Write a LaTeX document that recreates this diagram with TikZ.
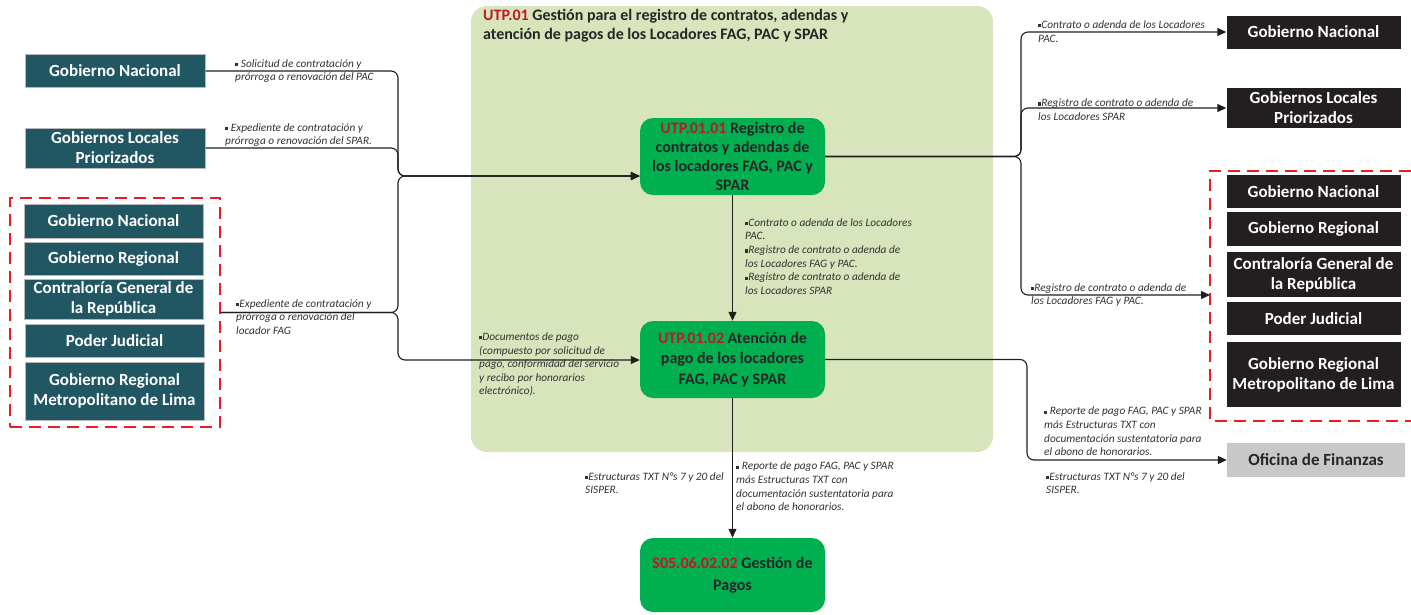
\documentclass[tikz,border=0pt]{standalone}
\usepackage{fontspec}
\setmainfont{Carlito}
\usetikzlibrary{arrows.meta}
\definecolor{cTeal}{RGB}{33,87,99}
\definecolor{cBlack}{RGB}{35,31,32}
\definecolor{cGreen}{RGB}{0,176,80}
\definecolor{cPale}{RGB}{216,228,188}
\definecolor{cCode}{RGB}{192,24,36}
\definecolor{cRed}{RGB}{235,28,36}
\definecolor{cDark}{RGB}{38,38,38}
\definecolor{cNote}{RGB}{50,50,50}
\definecolor{cGray}{RGB}{200,200,200}
\definecolor{cLine}{RGB}{30,30,30}
\newcommand{\bulsq}{\raisebox{0.2ex}{\rule{0.28em}{0.28em}}}
\newcommand{\code}[1]{\textcolor{cCode}{#1}}

\begin{document}
\begin{tikzpicture}[x=1pt,y=-1pt,
    orgL/.style={draw=gray!55, line width=1pt, fill=cTeal, text=white, font=\bfseries\fontsize{17}{20}\selectfont, align=center, minimum width=180pt, minimum height=33pt, inner sep=0pt},
    orgR/.style={fill=cBlack, text=white, font=\bfseries\fontsize{17}{20}\selectfont, align=center, minimum width=174pt, minimum height=33pt, inner sep=0pt},
    proc/.style={fill=cGreen, rounded corners=13pt, text=cDark, font=\bfseries\fontsize{16}{19}\selectfont, align=center, minimum width=185pt, minimum height=77pt, inner sep=0pt},
    note/.style={anchor=west, font=\itshape\fontsize{11.3}{13.6}\selectfont, text=cNote, align=left, inner sep=0pt},
    grp/.style={draw=cRed, line width=1.8pt, dash pattern=on 12pt off 7pt},
    link/.style={draw=cLine, line width=1.1pt, rounded corners=7pt},
    flow/.style={link, -{Triangle[length=9pt,width=8pt]}}]

    \useasboundingbox (0,0) rectangle (1411,614);

    \node[fill=cPale, rounded corners=16pt, minimum width=522pt, minimum height=446pt, inner sep=0pt] (utp) at (732,229) {};
    \node[anchor=north west, inner sep=0pt, text=cDark, font=\bfseries\fontsize{16}{19}\selectfont, align=left] (title) at (483,9) {\code{UTP.01} Gestión para el registro de contratos, adendas y\\atención de pagos de los Locadores FAG, PAC y SPAR};

    \node[orgL] (gn1) at (115,71) {Gobierno Nacional};
    \node[orgL, minimum height=40pt] (glp1) at (115,148) {Gobiernos Locales\\Priorizados};

    \node[grp, minimum width=210pt, minimum height=229pt, inner sep=0pt] (grpL) at (115,312.5) {};
    \node[orgL, minimum width=179pt, minimum height=34pt] (gn2) at (113.5,221) {Gobierno Nacional};
    \node[orgL, minimum width=179pt] (gr2) at (113.5,258.5) {Gobierno Regional};
    \node[orgL, minimum width=179pt, minimum height=40pt] (cgr2) at (113.5,299) {Contraloría General de\\la República};
    \node[orgL, minimum width=179pt] (pj2) at (114.5,340.5) {Poder Judicial};
    \node[orgL, minimum width=179pt, minimum height=58pt] (grml2) at (114.5,391) {Gobierno Regional\\Metropolitano de Lima};

    \node[proc] (p1) at (732.5,156.5) {\code{UTP.01.01} Registro de\\contratos y adendas de\\los locadores FAG, PAC y\\SPAR};
    \node[proc, font=\bfseries\fontsize{16}{20.5}\selectfont] (p2) at (732.5,359.5) {\code{UTP.01.02} Atención de\\pago de los locadores\\FAG, PAC y SPAR};
    \node[proc, minimum height=74pt, font=\bfseries\fontsize{16}{22}\selectfont] (p3) at (732.5,575) {\code{S05.06.02.02} Gestión de\\Pagos};

    \node[orgR] (gn3) at (1313.5,32) {Gobierno Nacional};
    \node[orgR, minimum height=40pt] (glp3) at (1313.5,108) {Gobiernos Locales\\Priorizados};

    \draw[grp] (1411,171) -- (1210,171) -- (1210,421) -- (1411,421);
    \coordinate (grpR) at (1210,295);
    \node[orgR] (gn4) at (1313.5,191.5) {Gobierno Nacional};
    \node[orgR, minimum height=34pt] (gr4) at (1313.5,229) {Gobierno Regional};
    \node[orgR, minimum height=45pt] (cgr4) at (1313.5,274.5) {Contraloría General de\\la República};
    \node[orgR] (pj4) at (1313.5,318.5) {Poder Judicial};
    \node[orgR, minimum height=65pt] (grml4) at (1313.5,374.5) {Gobierno Regional\\Metropolitano de Lima};

    \node[orgR, fill=cGray, text=cDark, minimum width=178pt, minimum height=34pt] (fin) at (1316,460) {Oficina de Finanzas};

    \coordinate (jL) at (398,176);
    \coordinate (jL2) at (398,360);
    \coordinate (jR) at (1021,155);
    \coordinate (jR2) at (1027,360);

    \draw[flow] (gn1.east) -| (jL) -- (jL -| p1.west);
    \draw[flow] (glp1.east) -| (jL) -- (jL -| p1.west);
    \draw[flow] (grpL.east) -| (jL) -- (jL -| p1.west);
    \draw[flow] (grpL.east) -| (jL2) -- (jL2 -| p2.west);
    \draw[flow] (p1.south) -- (p2.north);
    \draw[flow] (p2.south) -- (p3.north);
    \draw[flow] (p1.east) -- (p1.east -| jR) |- (gn3.west);
    \draw[flow] (p1.east) -- (p1.east -| jR) |- (glp3.west);
    \draw[flow] (p1.east) -- (p1.east -| jR) |- (grpR);
    \draw[flow] (p2.east) -- (p2.east -| jR2) |- (fin.west);

    \node[note] (nA) at (235,71) {\bulsq\ Solicitud de contratación y\\prórroga o renovación del PAC};
    \node[note] (nB) at (225,135) {\bulsq\ Expediente de contratación y\\prórroga o renovación del SPAR.};
    \node[note] (nC) at (236,317) {\bulsq Expediente de contratación y\\prórroga o renovación del\\locador FAG};
    \node[note] (nD) at (479,364.5) {\bulsq Documentos de pago\\(compuesto por solicitud de\\pago, conformidad del servicio\\y recibo por honorarios\\electrónico).};
    \node[note] (nE) at (745,256.5) {\bulsq Contrato o adenda de los Locadores\\PAC.\\\bulsq Registro de contrato o adenda de\\los Locadores FAG y PAC.\\\bulsq Registro de contrato o adenda de\\los Locadores SPAR};
    \node[note] (nF) at (585,483) {\bulsq Estructuras TXT N°s 7 y 20 del\\SISPER.};
    \node[note] (nG) at (736,486.5) {\bulsq\ Reporte de pago FAG, PAC y SPAR\\más Estructuras TXT con\\documentación sustentatoria para\\el abono de honorarios.};
    \node[note] (nH) at (1038,31.5) {\bulsq Contrato o adenda de los Locadores\\PAC.};
    \node[note] (nI) at (1038,109.5) {\bulsq Registro de contrato o adenda de\\los Locadores SPAR};
    \node[note] (nJ) at (1031,295) {\bulsq Registro de contrato o adenda de\\los Locadores FAG y PAC.};
    \node[note] (nK) at (1044,431.5) {\bulsq\ Reporte de pago FAG, PAC y SPAR\\más Estructuras TXT con\\documentación sustentatoria para\\el abono de honorarios.};
    \node[note] (nL) at (1046,483) {\bulsq Estructuras TXT N°s 7 y 20 del\\SISPER.};
\end{tikzpicture}
\end{document}
